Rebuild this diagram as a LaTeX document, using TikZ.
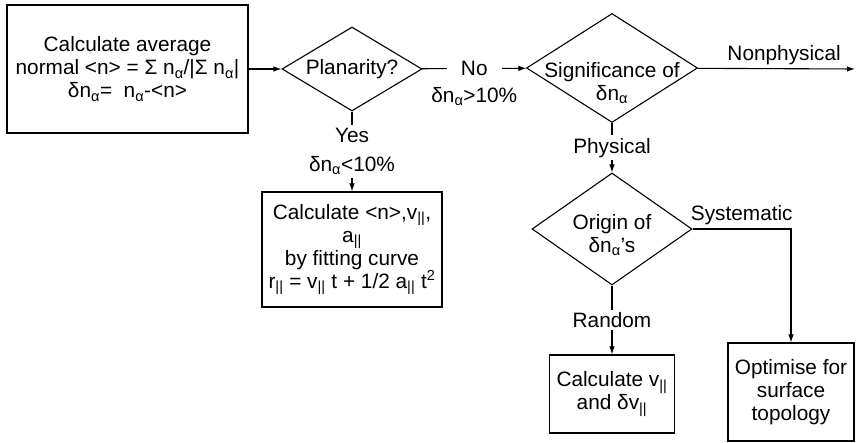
\documentclass[tikz,border=0pt]{standalone}
\usepackage{fontspec}
\setmainfont{Liberation Sans}
\usetikzlibrary{shapes.geometric,arrows.meta}
\newcommand{\na}{n\textsubscript{α}}
\newcommand{\dna}{δn\textsubscript{α}}
\newcommand{\pll}{\textsubscript{||}}
\begin{document}
\begin{tikzpicture}[x=1pt,y=1pt,line width=1.1pt,>={Latex[length=8pt,width=5.5pt]},
every node/.style={font=\fontsize{20.8}{23}\selectfont},
procbox/.style={draw,rectangle,align=center,inner sep=0pt},
decision/.style={draw,diamond,inner sep=0pt},
dtext/.style={align=center,inner sep=0pt},
lbl/.style={fill=white,inner sep=3pt,align=center}]
\useasboundingbox (0,0) rectangle (856,443);
% boxes and decisions
\node[procbox,minimum width=241,minimum height=128] (avg) at (127.5,374)
  {Calculate average\\normal <n> = Σ \na/|Σ \na|\\\dna= \ \na-<n>};
\node[decision,minimum width=140,minimum height=84,
  label={[dtext]center:Planarity?}] (plan) at (352,374) {};
\node[decision,minimum width=171,minimum height=109,
  label={[dtext,yshift=-15pt]center:Significance of\\\dna}] (sig) at (612,375) {};
\node[decision,minimum width=160,minimum height=112,
  label={[dtext,yshift=-6pt]center:Origin of\\\dna's}] (orig) at (612,214) {};
\node[procbox,minimum width=180,minimum height=115] (fit) at (352,193.5)
  {Calculate <n>,v\pll,\\a\pll\\by fitting curve\\r\pll{} = v\pll{} t + 1/2 a\pll{} t\textsuperscript{2}};
\node[procbox,minimum width=125,minimum height=78] (vel) at (612,49) {Calculate v\pll\\and δv\pll};
\node[procbox,minimum width=126,minimum height=98] (opt) at (791,51) {Optimise for\\surface\\topology};
\coordinate (out) at (855,374);
% connectors
\draw[->] (avg) -- (plan);
\draw[->] (plan) -- node[lbl,inner xsep=14pt] {No} node[below=15pt] {\dna>10\%} (sig);
\draw[->] (plan) -- node[lbl] {Yes\\[6pt]\dna<10\%} (fit);
\draw[->] (sig) -- node[above,pos=0.55] {Nonphysical} (out);
\draw[->] (sig) -- node[lbl] {Physical} (orig);
\draw[->] (orig) -- node[lbl,inner ysep=2pt] {Random} (vel);
\draw[->] (orig.east) -| node[above,pos=0.25] {Systematic} (opt.north);
\end{tikzpicture}
\end{document}
